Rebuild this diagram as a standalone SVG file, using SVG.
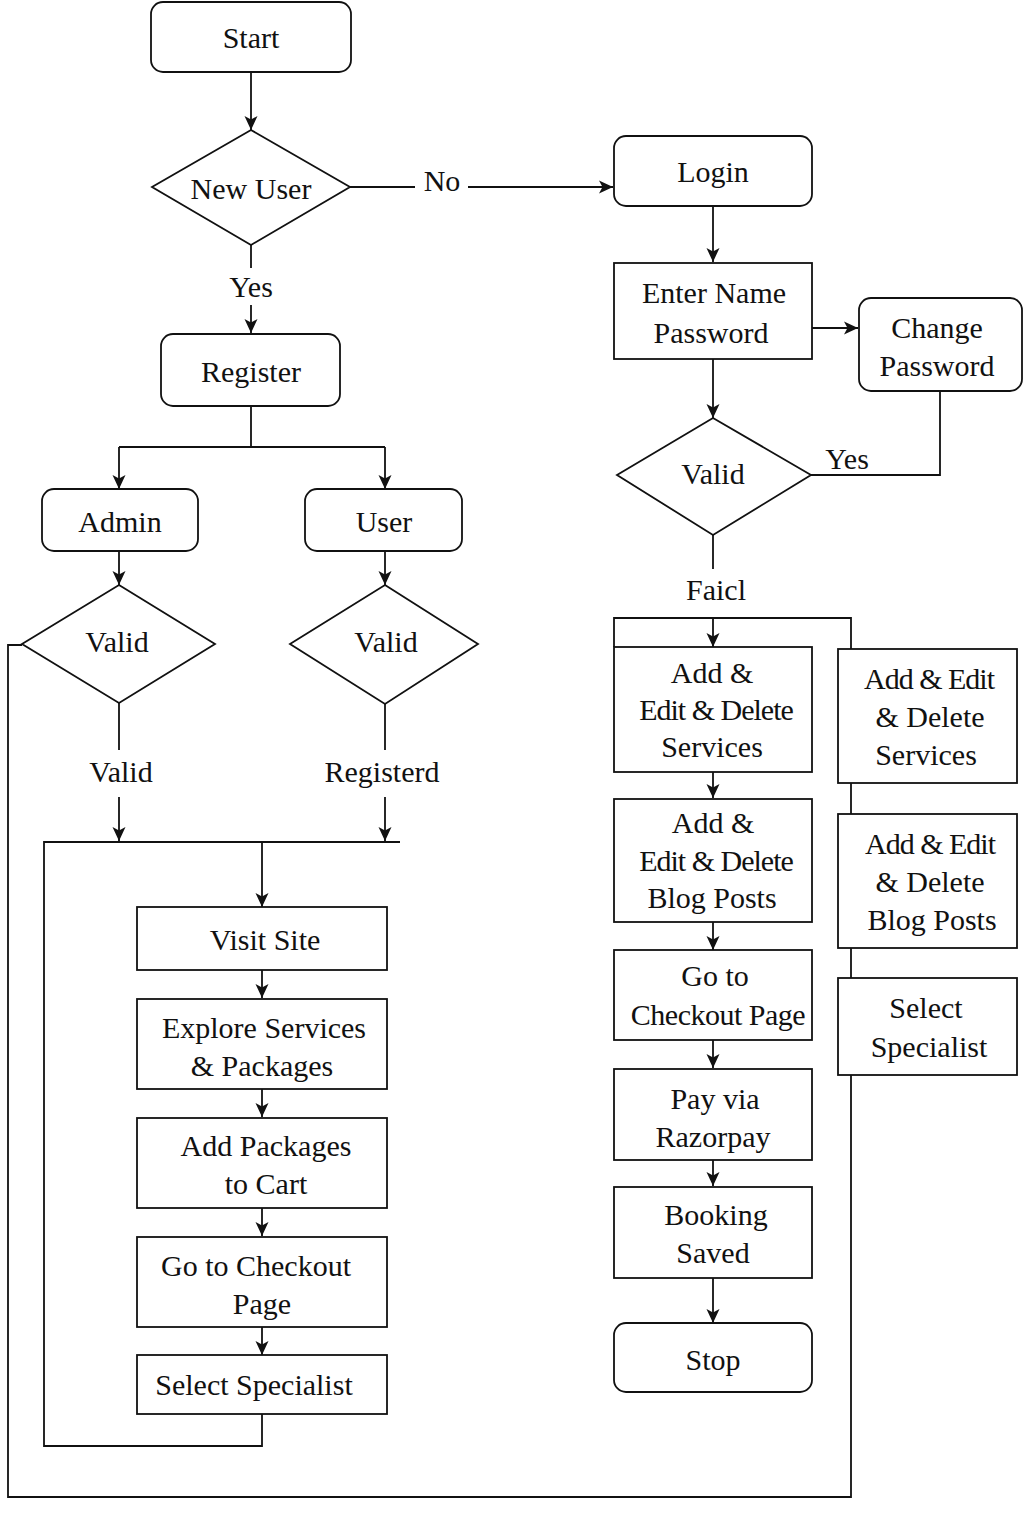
<svg xmlns="http://www.w3.org/2000/svg" width="1024" height="1536" viewBox="0 0 1024 1536">
<style>
.n{fill:#fff;stroke:#111;stroke-width:1.8}
.c{fill:none;stroke:#111;stroke-width:1.8}
.a{fill:none;stroke:#111;stroke-width:1.8;marker-end:url(#ah)}
text{font-family:"Liberation Serif","Times New Roman",serif;font-size:30px;fill:#111;text-anchor:middle}
</style>
<defs>
<marker id="ah" markerUnits="userSpaceOnUse" markerWidth="14" markerHeight="14" refX="14" refY="7" orient="auto">
<path d="M0,0.5 L14,7 L0,13.5 L3.5,7 z" fill="#111"/>
</marker>
</defs>
<rect width="1024" height="1536" fill="#fff"/>
<g id="connectors">
<path class="a" d="M251,72 V130"/>
<path class="c" d="M350,187 H415"/>
<path class="a" d="M468,187 H613"/>
<path class="c" d="M251,245 V268"/>
<path class="a" d="M251,305 V333"/>
<path class="c" d="M251,406 V447 M119,447 H385"/>
<path class="a" d="M119,447 V489"/>
<path class="a" d="M385,447 V489"/>
<path class="a" d="M119,551 V585"/>
<path class="a" d="M385,551 V585"/>
<path class="c" d="M119,703 V750"/>
<path class="a" d="M119,797 V841"/>
<path class="c" d="M385,704 V750"/>
<path class="a" d="M385,797 V841"/>
<path class="c" d="M400,842 H44 V1446 H262 V1414"/>
<path class="a" d="M262,842 V907"/>
<path class="a" d="M262,970 V998"/>
<path class="a" d="M262,1089 V1117"/>
<path class="a" d="M262,1208 V1236"/>
<path class="a" d="M262,1327 V1355"/>
<path class="c" d="M22,645 H8 V1497 H851 V618 H614 V647"/>
<path class="a" d="M713,206 V262"/>
<path class="a" d="M812,328 H858"/>
<path class="a" d="M713,359 V418"/>
<path class="c" d="M940,391 V475 H811"/>
<path class="c" d="M713,535 V569"/>
<path class="a" d="M713,618 V647"/>
<path class="a" d="M713,772 V798"/>
<path class="a" d="M713,922 V950"/>
<path class="a" d="M713,1040 V1068"/>
<path class="a" d="M713,1160 V1186"/>
<path class="a" d="M713,1278 V1323"/>
<text x="442" y="191">No</text>
<text x="251" y="297">Yes</text>
<text x="121" y="782">Valid</text>
<text x="382" y="782">Registerd</text>
<text x="847" y="469">Yes</text>
<text x="716" y="600">Faicl</text>
</g>
<g id="start"><rect class="n" x="151" y="2" width="200" height="70" rx="12"/><text x="251" y="48">Start</text></g>
<g id="newuser"><polygon class="n" points="251,130 350,187 251,245 152,187"/><text x="251" y="199">New User</text></g>
<g id="register"><rect class="n" x="161" y="334" width="179" height="72" rx="12"/><text x="251" y="382">Register</text></g>
<g id="admin"><rect class="n" x="42" y="489" width="156" height="62" rx="12"/><text x="120" y="532">Admin</text></g>
<g id="user"><rect class="n" x="305" y="489" width="157" height="62" rx="12"/><text x="384" y="532">User</text></g>
<g id="adminvalid"><polygon class="n" points="119,585 215,644 119,703 22,644"/><text x="117" y="652">Valid</text></g>
<g id="uservalid"><polygon class="n" points="385,585 478,644 385,704 290,644"/><text x="386" y="652">Valid</text></g>
<g id="visit"><rect class="n" x="137" y="907" width="250" height="63"/><text x="265" y="950">Visit Site</text></g>
<g id="explore"><rect class="n" x="137" y="999" width="250" height="90"/><text x="264" y="1038">Explore Services</text><text x="262" y="1076">&amp; Packages</text></g>
<g id="addcart"><rect class="n" x="137" y="1118" width="250" height="90"/><text x="266" y="1156">Add Packages</text><text x="266" y="1194">to Cart</text></g>
<g id="checkoutL"><rect class="n" x="137" y="1237" width="250" height="90"/><text x="256" y="1276">Go to Checkout</text><text x="262" y="1314">Page</text></g>
<g id="specL"><rect class="n" x="137" y="1355" width="250" height="59"/><text x="254" y="1395">Select Specialist</text></g>
<g id="login"><rect class="n" x="614" y="136" width="198" height="70" rx="12"/><text x="713" y="182">Login</text></g>
<g id="enter"><rect class="n" x="614" y="263" width="198" height="96"/><text x="714" y="303">Enter Name</text><text x="711" y="343">Password</text></g>
<g id="change"><rect class="n" x="859" y="298" width="163" height="93" rx="12"/><text x="937" y="338">Change</text><text x="937" y="376">Password</text></g>
<g id="loginvalid"><polygon class="n" points="713,418 811,475 713,535 617,475"/><text x="713" y="484">Valid</text></g>
<g id="services"><rect class="n" x="614" y="647" width="198" height="125"/><text x="712" y="683">Add &amp;</text><text x="716" y="720" style="letter-spacing:-1px">Edit &amp; Delete</text><text x="712" y="757">Services</text></g>
<g id="blog"><rect class="n" x="614" y="799" width="198" height="123"/><text x="713" y="833">Add &amp;</text><text x="716" y="871" style="letter-spacing:-1px">Edit &amp; Delete</text><text x="712" y="908">Blog Posts</text></g>
<g id="checkoutR"><rect class="n" x="614" y="950" width="198" height="90"/><text x="715" y="986">Go to</text><text x="718" y="1025" style="letter-spacing:-0.5px">Checkout Page</text></g>
<g id="pay"><rect class="n" x="614" y="1069" width="198" height="91"/><text x="715" y="1109">Pay via</text><text x="713" y="1147">Razorpay</text></g>
<g id="booking"><rect class="n" x="614" y="1187" width="198" height="91"/><text x="716" y="1225">Booking</text><text x="713" y="1263">Saved</text></g>
<g id="stop"><rect class="n" x="614" y="1323" width="198" height="69" rx="12"/><text x="713" y="1370">Stop</text></g>
<g id="rservices"><rect class="n" x="838" y="649" width="179" height="134"/><text x="929" y="689" style="letter-spacing:-1px">Add &amp; Edit</text><text x="930" y="727">&amp; Delete</text><text x="926" y="765">Services</text></g>
<g id="rblog"><rect class="n" x="838" y="814" width="179" height="134"/><text x="930" y="854" style="letter-spacing:-1px">Add &amp; Edit</text><text x="930" y="892">&amp; Delete</text><text x="932" y="930">Blog Posts</text></g>
<g id="rspec"><rect class="n" x="838" y="978" width="179" height="97"/><text x="926" y="1018">Select</text><text x="929" y="1057">Specialist</text></g>
</svg>
